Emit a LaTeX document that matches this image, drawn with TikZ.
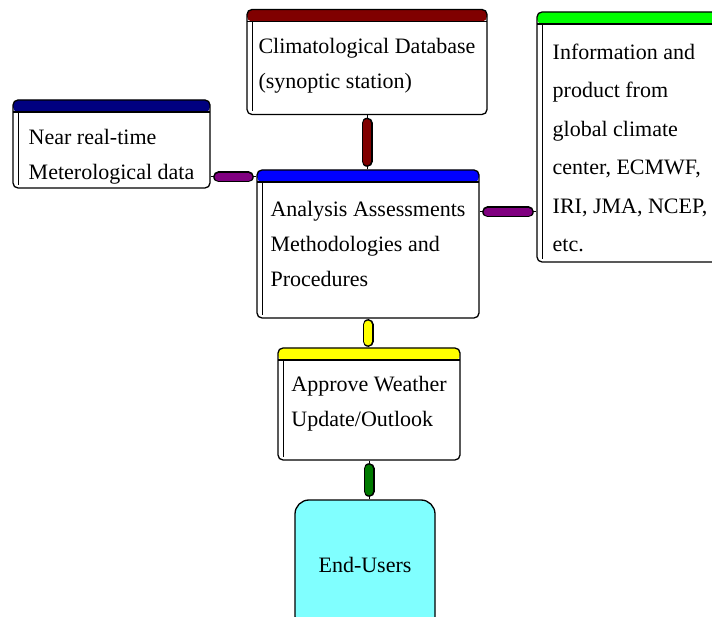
\documentclass[tikz,border=0pt]{standalone}
\usepackage{fontspec}
\setmainfont{Liberation Serif}
\definecolor{barmaroon}{HTML}{800000}
\definecolor{barnavy}{HTML}{000080}
\definecolor{barblue}{HTML}{0000FF}
\definecolor{bargreen}{HTML}{00FF00}
\definecolor{baryellow}{HTML}{FFFF00}
\definecolor{linkpurple}{HTML}{800080}
\definecolor{linkgreen}{HTML}{007A00}
\definecolor{usercyan}{HTML}{80FFFF}

\begin{document}
\begin{tikzpicture}[x=1pt, y=-1pt,
            panel/.style={rectangle, draw, line width=1.3pt, fill=white, rounded corners=5pt,
                align=left, inner xsep=8pt, inner ysep=0pt, font=\fontsize{22}{35}\selectfont,
                path picture={
                    \fill[#1] (path picture bounding box.north west) rectangle ([yshift=-12pt]path picture bounding box.north east);
                    \draw[line width=1.3pt] ([yshift=-12pt]path picture bounding box.north west) -- ([yshift=-12pt]path picture bounding box.north east);
                    \draw[line width=0.8pt] ([xshift=5pt,yshift=-12pt]path picture bounding box.north west) -- ([xshift=5pt,yshift=3pt]path picture bounding box.south west);
                }},
            users/.style={rectangle, draw, line width=1.3pt, fill=usercyan, rounded corners=14pt,
                align=center, font=\fontsize{22}{35}\selectfont},
            wire/.style={line width=1pt},
            pillrim/.style={line width=11pt, line cap=round, shorten <=8pt, shorten >=8pt},
            pillcore/.style={line width=8pt, line cap=round, shorten <=8pt, shorten >=8pt, draw=#1}
        ]

    \useasboundingbox (0,0) rectangle (712,617);

    \node[panel=barmaroon, minimum width=240pt, minimum height=105pt] (climdb) at (367,62)
        {\rule{0pt}{22pt}Climatological Database\\(synoptic station)};
    \node[panel=bargreen, minimum width=186pt, minimum height=250pt,
          font=\fontsize{22}{38.5}\selectfont] (globalinfo) at (630,137)
        {\rule{0pt}{37pt}Information and\\product from\\global climate\\center, ECMWF,\\IRI, JMA, NCEP,\\etc.};
    \node[panel=barnavy, minimum width=197pt, minimum height=88pt] (nearreal) at (111.5,144)
        {\rule{0pt}{40pt}Near real-time\\Meterological data};
    \node[panel=barblue, minimum width=222pt, minimum height=148pt] (analysis) at (368,244)
        {Analysis Assessments\\Methodologies and\\Procedures};
    \node[panel=baryellow, minimum width=182pt, minimum height=112pt] (approve) at (369,404)
        {Approve Weather\\Update/Outlook};
    \node[users, minimum width=140pt, minimum height=130pt] (endusers) at (365,565) {End-Users};

    % links
    \draw[wire] (climdb.south) -- (climdb.south |- analysis.north);
    \draw[pillrim] (climdb.south) -- (climdb.south |- analysis.north);
    \draw[pillcore=barmaroon] (climdb.south) -- (climdb.south |- analysis.north);

    \draw[wire] ([yshift=-33pt]nearreal.east) -- ([yshift=-33pt]nearreal.east -| analysis.west);
    \draw[pillrim] ([yshift=-33pt]nearreal.east) -- ([yshift=-33pt]nearreal.east -| analysis.west);
    \draw[pillcore=linkpurple] ([yshift=-33pt]nearreal.east) -- ([yshift=-33pt]nearreal.east -| analysis.west);

    \draw[wire] ([yshift=32pt]analysis.east) -- ([yshift=32pt]analysis.east -| globalinfo.west);
    \draw[pillrim] ([yshift=32pt]analysis.east) -- ([yshift=32pt]analysis.east -| globalinfo.west);
    \draw[pillcore=linkpurple] ([yshift=32pt]analysis.east) -- ([yshift=32pt]analysis.east -| globalinfo.west);

    \draw[wire] (analysis.south) -- (analysis.south |- approve.north);
    \draw[pillrim, shorten <=6pt, shorten >=6pt] (analysis.south) -- (analysis.south |- approve.north);
    \draw[pillcore=baryellow, shorten <=6pt, shorten >=6pt] (analysis.south) -- (analysis.south |- approve.north);

    \draw[wire] (approve.south) -- (approve.south |- endusers.north);
    \draw[pillrim] (approve.south) -- (approve.south |- endusers.north);
    \draw[pillcore=linkgreen] (approve.south) -- (approve.south |- endusers.north);

\end{tikzpicture}
\end{document}
